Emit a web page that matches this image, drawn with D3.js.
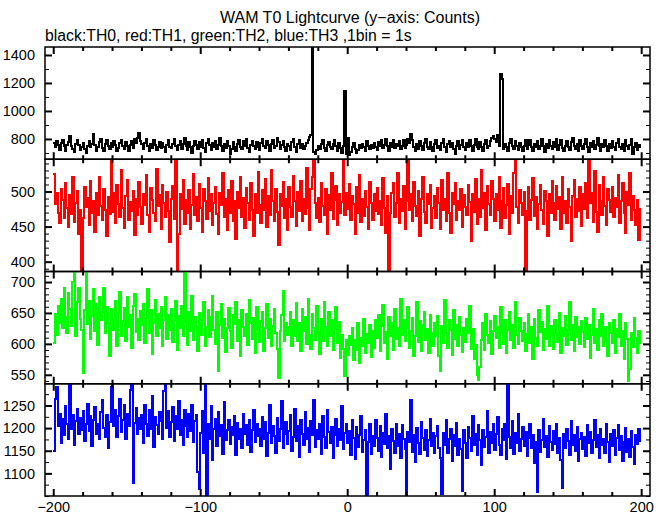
<!DOCTYPE html>
<html><head><meta charset="utf-8">
<script src="https://cdn.jsdelivr.net/npm/d3@7"></script>
<style>body{margin:0;background:#fff} svg{display:block} text{font-family:"Liberation Sans",Arial,sans-serif;fill:#000}</style>
</head><body><svg id="c" width="669" height="515"></svg>
<script>
const title = "WAM T0 Lightcurve (y\u2212axis: Counts)";
const subtitle = "black:TH0, red:TH1, green:TH2, blue:TH3 ,1bin = 1s";
const binStart = -200; // time of first bin (s), 1 bin = 1 s

const th0 = [
768,741,783,756,722,770,795,748,715,760,781,820,752,731,709,762,790,757,718,744,
772,728,701,749,785,740,763,838,757,717,739,776,798,736,712,761,789,750,725,770,
745,782,759,716,733,768,794,752,727,779,748,711,760,788,735,803,772,808,846,787,
761,730,774,801,748,712,764,737,789,755,721,746,781,733,770,742,706,758,792,744,
733,766,799,750,718,757,784,731,763,806,751,724,775,741,698,747,786,760,728,777,
746,791,737,710,769,797,754,721,773,740,782,729,758,804,750,715,766,734,788,749,
690,728,779,745,713,767,793,741,726,783,751,802,736,709,760,787,753,731,775,744,
719,768,797,748,732,785,757,714,764,792,737,750,806,775,727,756,786,742,712,766,
750,722,777,803,740,708,761,790,736,764,725,748,771,795,812,826,1500,704,695,718,
752,726,763,789,735,713,758,779,742,729,765,795,747,715,768,736,701,752,1142,693,
805,688,706,741,774,728,697,718,757,734,766,744,716,787,749,726,760,737,773,746,
722,778,749,790,733,756,803,751,717,769,741,793,735,762,748,785,725,753,791,738,
755,801,770,832,794,743,714,763,731,787,750,719,772,797,745,728,781,741,711,762,
790,736,752,718,771,799,742,709,764,788,740,773,731,694,750,784,725,756,795,745,
718,768,741,790,751,712,758,802,746,727,775,742,715,763,796,736,752,787,805,822,
801,779,826,750,1262,1230,726,763,742,716,770,797,748,730,786,752,718,768,741,713,
749,789,729,758,796,744,714,767,740,783,725,752,803,748,709,764,733,793,750,727,
777,741,799,722,757,792,734,711,751,784,745,719,781,806,749,731,766,716,790,748,
727,763,797,741,710,770,746,788,728,756,805,750,717,767,739,794,752,712,763,733,
784,745,719,771,800,742,728,766,713,789,748,730,760,797,696,740,773,723,756,741];

const th1 = [
525,482,498,470,455,503,488,462,512,477,449,495,468,520,457,483,501,440,474,384,
462,506,478,491,452,515,470,487,443,498,466,521,480,459,503,474,436,492,468,552,
471,498,455,509,482,463,530,476,448,494,517,459,485,472,501,438,489,466,513,478,
454,496,481,523,467,442,505,488,470,458,532,479,495,447,510,484,463,499,472,428,
489,508,461,552,385,440,497,475,516,453,488,470,502,446,481,525,467,492,458,511,
476,443,503,487,461,519,472,496,452,484,507,468,439,498,481,526,463,490,445,502,
470,515,458,487,432,499,476,521,464,491,448,505,483,460,512,474,437,496,469,528,
481,455,502,474,518,449,493,467,530,486,458,504,471,424,497,480,513,462,489,445,
507,478,463,522,486,451,499,472,515,458,490,468,534,477,445,503,520,548,483,462,
491,456,512,480,467,503,439,495,474,526,461,488,508,452,497,470,485,549,466,498,
475,511,460,493,482,439,506,470,523,457,489,465,501,478,446,514,484,460,497,472,
505,468,487,452,519,476,441,493,384,470,498,512,463,484,527,455,490,472,508,446,
486,551,474,497,458,513,480,465,501,437,489,520,471,455,496,482,509,448,477,493,
462,505,483,447,516,474,490,458,527,469,441,498,482,512,460,487,473,503,450,495,
478,466,509,485,430,497,471,518,454,489,463,531,476,498,445,508,482,467,515,490,
458,496,473,520,448,487,505,462,481,511,440,494,470,526,548,478,455,502,484,466,
499,384,472,506,459,488,519,465,492,447,482,510,474,453,501,486,437,497,470,515,
483,460,508,475,492,446,521,469,487,455,503,478,430,494,517,464,489,472,506,451,
496,475,512,462,550,484,498,457,529,471,443,509,486,466,520,479,452,503,488,471,
507,464,491,478,523,455,487,512,469,441,499,481,526,460,494,473,452,488,431,475];

const th2 = [
602,648,615,661,633,672,625,690,644,618,682,656,629,700,715,612,668,690,640,623,
553,655,717,632,670,608,645,688,621,664,598,676,639,652,690,617,660,634,581,657,
641,623,669,597,650,684,612,637,658,604,675,628,646,593,662,681,619,640,607,653,
630,664,601,642,688,617,655,583,634,671,612,648,625,660,597,639,676,608,646,622,
657,603,638,669,590,645,626,661,612,716,635,598,652,620,677,606,643,629,589,650,
615,639,668,596,627,654,611,643,677,622,600,652,556,631,664,609,640,587,625,658,
620,594,646,632,667,605,638,581,655,627,612,649,598,671,634,608,642,585,660,623,
603,637,652,589,625,664,610,641,596,629,657,618,592,545,620,646,686,604,633,615,
628,651,597,639,612,666,604,634,588,657,621,643,600,673,615,591,648,626,607,662,
619,583,641,605,668,627,596,652,613,638,590,624,659,601,636,577,615,592,548,606,
582,612,598,625,574,606,590,633,569,610,597,641,585,616,602,630,578,621,594,639,
610,647,588,629,663,601,619,575,644,612,633,590,657,608,626,597,672,615,638,604,
626,659,594,621,642,580,613,667,603,637,589,631,652,607,624,585,646,618,597,634,
612,645,580,556,629,601,671,617,593,638,622,582,655,608,631,596,643,614,587,626,
603,640,618,662,592,624,575,598,550,541,563,607,633,590,648,615,602,637,584,621,
645,609,627,594,660,618,600,639,585,622,651,606,631,593,668,614,599,642,620,605,
633,588,616,649,602,627,575,641,610,596,655,619,636,590,624,608,661,597,629,614,
591,638,617,603,650,585,626,612,645,598,622,667,606,631,589,643,611,627,600,637,
619,595,642,608,631,577,614,656,601,624,590,639,612,648,596,628,605,581,634,617,
602,639,586,624,611,648,597,621,575,633,608,540,560,618,595,642,609,586,620,602];

const th3 = [
1150,1265,1290,1205,1232,1168,1220,1185,1248,1210,1176,1296,1199,1230,1163,1215,1242,1188,1222,1195,
1238,1172,1210,1254,1193,1226,1160,1219,1247,1186,1208,1175,1235,1262,1201,1180,1228,1155,1214,1290,
1296,1205,1240,1181,1226,1265,1192,1218,1250,1175,1232,1204,1284,1297,1078,1212,1245,1186,1223,1199,
1229,1168,1252,1210,1183,1241,1197,1270,1158,1224,1206,1187,1236,1215,1175,1282,1296,1201,1238,1180,
1213,1247,1172,1226,1198,1259,1185,1219,1162,1240,1205,1181,1232,1193,1250,1170,1215,1228,1102,1066,
1190,1238,1145,1295,1052,1210,1176,1248,1129,1198,1221,1160,1235,1183,1206,1142,1257,1174,1195,1218,
1165,1203,1184,1226,1140,1212,1177,1198,1155,1232,1188,1206,1163,1219,1147,1195,1241,1170,1208,1182,
1199,1160,1225,1176,1213,1138,1190,1251,1168,1204,1183,1146,1222,1172,1197,1260,1155,1187,1214,1165,
1193,1229,1150,1181,1242,1172,1205,1137,1219,1188,1163,1236,1177,1201,1148,1215,1184,1262,1159,1196,
1175,1208,1143,1226,1180,1157,1239,1191,1168,1202,1133,1184,1220,1161,1197,1174,1248,1153,1189,1210,
1166,1193,1140,1217,1178,1131,1202,1159,1185,1226,1147,1174,1196,1051,1170,1208,1142,1183,1161,1219,
1178,1150,1204,1137,1189,1165,1231,1156,1182,1110,1198,1172,1145,1210,1161,1188,1135,1207,1176,1154,
1050,1192,1170,1263,1147,1185,1126,1201,1168,1143,1214,1179,1152,1196,1138,1173,1220,1160,1189,1144,
1182,1205,1157,1134,1055,1190,1163,1218,1146,1177,1199,1128,1184,1161,1211,1140,1175,1153,1062,1195,
1168,1135,1203,1179,1150,1226,1162,1188,1141,1207,1173,1119,1196,1158,1181,1237,1145,1192,1166,1210,
1152,1186,1225,1163,1140,1199,1174,1208,1131,1296,1180,1157,1215,1142,1189,1168,1232,1150,1176,1203,
1161,1191,1138,1178,1209,1155,1185,1122,1169,1058,1196,1147,1174,1221,1159,1183,1136,1204,1170,1152,
1193,1164,1210,1145,1178,1130,1068,1188,1157,1199,1172,1140,1215,1163,1184,1149,1202,1127,1175,1190,
1154,1181,1138,1206,1167,1192,1145,1173,1219,1158,1185,1133,1198,1162,1176,1144,1209,1170,1125,1188,
1160,1195,1141,1178,1207,1152,1183,1128,1169,1200,1147,1176,1136,1193,1158,1121,1185,1164,1199,1172];

const seriesValues = [th0, th1, th2, th3];
const seriesColors = ["#000000", "#ff0000", "#00ff00", "#0000ff"];
const yDomains = [[655, 1457], [386, 546], [535.5, 717], [1050, 1298]];
const yMajorTicks = [[800, 1000, 1200, 1400], [400, 450, 500], [550, 600, 650, 700], [1100, 1150, 1200, 1250]];
const yMinorStep = [100, 10, 10, 25];
const xDomain = [-205.6, 206];
const xMajorTicks = [-200, -100, 0, 100, 200];
const xMinorStep = 20;

const L = 45, R = 650, T = 47, B = 496;
const ph = (B - T) / 4;
const svg = d3.select("#c");

svg.append("text").attr("x", 350).attr("y", 23).attr("text-anchor", "middle")
  .style("font-size", "16px").text(title);
svg.append("text").attr("x", 45).attr("y", 41)
  .style("font-size", "15.8px").text(subtitle);

const x = d3.scaleLinear().domain(xDomain).range([L, R]);
const xMinor = d3.range(Math.ceil(xDomain[0] / xMinorStep) * xMinorStep, xDomain[1], xMinorStep)
  .filter(v => !xMajorTicks.includes(v));

seriesValues.forEach((vals, k) => {
  const top = T + k * ph, bot = top + ph;
  const y = d3.scaleLinear().domain(yDomains[k]).range([bot, top]);
  const g = svg.append("g");
  const cid = "clip" + k;
  svg.append("defs").append("clipPath").attr("id", cid)
    .append("rect").attr("x", L).attr("y", top).attr("width", R - L).attr("height", ph);

  const pts = vals.map((v, i) => ({t: binStart + i, v}));
  pts.push({t: binStart + vals.length, v: vals[vals.length - 1]});
  const line = d3.line().x(d => x(d.t)).y(d => y(d.v)).curve(d3.curveStepAfter);
  g.append("path").datum(pts).attr("d", line)
    .attr("fill", "none").attr("stroke", seriesColors[k]).attr("stroke-width", 2)
    .attr("stroke-linejoin", "miter")
    .attr("shape-rendering", "crispEdges").attr("clip-path", `url(#${cid})`);

  const ym = d3.range(Math.ceil(yDomains[k][0] / yMinorStep[k]) * yMinorStep[k], yDomains[k][1], yMinorStep[k])
    .filter(v => !yMajorTicks[k].includes(v));
  const yl = g.append("g").attr("transform", `translate(${L},0)`)
    .call(d3.axisLeft(y).tickValues(yMajorTicks[k]).tickSizeInner(-7).tickSizeOuter(0).tickPadding(10).tickFormat(d3.format("d")));
  yl.select(".domain").remove();
  yl.selectAll("line").attr("stroke-width", 2);
  yl.selectAll("text").style("font-size", "14.5px");
  const ylm = g.append("g").attr("transform", `translate(${L},0)`)
    .call(d3.axisLeft(y).tickValues(ym).tickSizeInner(-4).tickSizeOuter(0).tickFormat(""));
  ylm.select(".domain").remove();
  const yr = g.append("g").attr("transform", `translate(${R},0)`)
    .call(d3.axisRight(y).tickValues(yMajorTicks[k]).tickSizeInner(-7).tickSizeOuter(0).tickFormat(""));
  yr.select(".domain").remove();
  yr.selectAll("line").attr("stroke-width", 2);
  const yrm = g.append("g").attr("transform", `translate(${R},0)`)
    .call(d3.axisRight(y).tickValues(ym).tickSizeInner(-4).tickSizeOuter(0).tickFormat(""));
  yrm.select(".domain").remove();

  [[d3.axisTop, top], [d3.axisBottom, bot]].forEach(([ax, pos]) => {
    const a = g.append("g").attr("transform", `translate(0,${pos})`)
      .call(ax(x).tickValues(xMajorTicks).tickSizeInner(-7).tickSizeOuter(0).tickFormat(""));
    a.select(".domain").remove();
    a.selectAll("line").attr("stroke-width", 2);
    const am = g.append("g").attr("transform", `translate(0,${pos})`)
      .call(ax(x).tickValues(xMinor).tickSizeInner(-4).tickSizeOuter(0).tickFormat(""));
    am.select(".domain").remove();
    am.selectAll("line").attr("stroke-width", 2);
  });

  g.append("rect").attr("x", L).attr("y", top).attr("width", R - L).attr("height", ph)
    .attr("fill", "none").attr("stroke", "#000").attr("stroke-width", 1.5);

  if (k === 3) {
    const xl = svg.append("g").attr("transform", `translate(0,${bot})`)
      .call(d3.axisBottom(x).tickValues(xMajorTicks).tickSize(0).tickPadding(6));
    xl.select(".domain").remove();
    xl.selectAll("text").style("font-size", "14.5px");
  }
});
</script></body></html>
